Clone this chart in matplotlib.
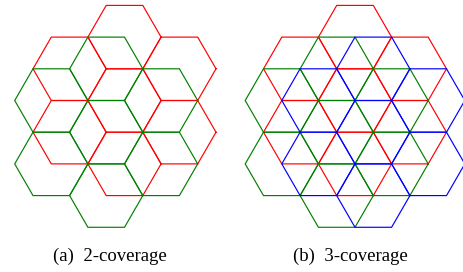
import numpy as np
import matplotlib.pyplot as plt

# flower of 7 flat-top hexagons: centre + 6 neighbours (in units of side length)
r3 = np.sqrt(3)
flower_dx = [0, 0, 0, -1.5, 1.5, -1.5, 1.5]
flower_dy = [0, r3, -r3, r3 / 2, r3 / 2, -r3 / 2, -r3 / 2]

# origin of each tiling (red centre, then the shifted copies at its vertices)
tile_x = [0, -0.5, 0.5]
tile_y = [0, -r3 / 2, -r3 / 2]
tile_colors = ['#ff0000', '#008000', '#0000ff']

captions = ['(a)  2-coverage', '(b)  3-coverage']
n_tilings = [2, 3]

W, H = 464, 272
side_px = 36.6
centre_px = [(124.5, 100.5), (355.0, 100.5)]
caption_x = [110, 350]


def hexagon(ax, cx, cy, color):
    ang = np.deg2rad(np.arange(0, 361, 60))
    ax.plot(cx + np.cos(ang), cy + np.sin(ang), color=color, lw=0.85,
            solid_joinstyle='miter', clip_on=False)


fig = plt.figure(figsize=(W / 100, H / 100), dpi=100)

for k in range(2):
    x0 = k * W / 2
    ax = fig.add_axes([x0 / W, 32 / H, (W / 2) / W, 240 / H])
    cxp, cyp = centre_px[k]
    ax.set_xlim((x0 - cxp) / side_px, (x0 + W / 2 - cxp) / side_px)
    ax.set_ylim(-(240 - cyp) / side_px, cyp / side_px)
    ax.axis('off')
    for t in range(n_tilings[k]):
        for dx, dy in zip(flower_dx, flower_dy):
            hexagon(ax, tile_x[t] + dx, tile_y[t] + dy, tile_colors[t])
    fig.text(caption_x[k] / W, 1 - 261 / H, captions[k],
             ha='center', va='baseline', fontsize=13.5, family='Liberation Serif')

fig.savefig('out.png', dpi=100)
